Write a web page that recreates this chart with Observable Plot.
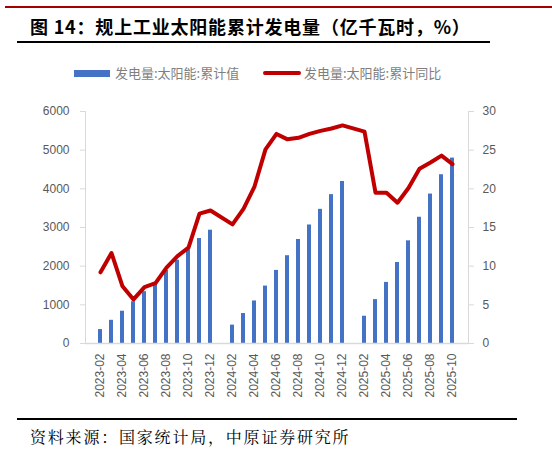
<!DOCTYPE html>
<html><head><meta charset="utf-8">
<script src="https://cdn.jsdelivr.net/npm/d3@7"></script>
<script src="https://cdn.jsdelivr.net/npm/@observablehq/plot@0.6"></script>
<style>
body{margin:0;background:#fff;}
#wrap{position:relative;width:552px;height:451px;overflow:hidden;font-family:"Noto Sans CJK SC",sans-serif;}
.abs{position:absolute;}
</style></head>
<body><div id="wrap">
<div class="abs" style="left:5px;top:6px;width:547px;height:2px;background:#a50000"></div>
<div class="abs" id="title" style="left:30px;top:13px;font-size:18px;font-weight:bold;color:#000;white-space:nowrap;letter-spacing:0.8px">图 14：规上工业太阳能累计发电量（亿千瓦时，%）</div>
<div class="abs" style="left:17px;top:41px;width:473px;height:2px;background:#000"></div>
<div class="abs" style="left:74px;top:70px;width:36px;height:7px;background:#4472C4"></div>
<div class="abs" style="left:115px;top:63px;font-size:13px;color:#7f7f7f;white-space:nowrap">发电量:太阳能:累计值</div>
<div class="abs" style="left:263px;top:71px;width:38px;height:4px;border-radius:2px;background:#C00000"></div>
<div class="abs" style="left:304px;top:63px;font-size:13px;color:#7f7f7f;white-space:nowrap">发电量:太阳能:累计同比</div>
<div class="abs" id="chart" style="left:0;top:95px"></div>
<div class="abs" style="left:17px;top:418px;width:500px;height:2px;background:#000"></div>
<div class="abs" style="left:30px;top:425px;font-size:16px;color:#000;white-space:nowrap;letter-spacing:1.8px;font-family:'Noto Serif CJK SC','Noto Sans CJK SC',serif">资料来源：国家统计局，中原证券研究所</div>
</div>
<script>
const months = ["2023-02","2023-03","2023-04","2023-05","2023-06","2023-07","2023-08","2023-09","2023-10","2023-11","2023-12",
"2024-01","2024-02","2024-03","2024-04","2024-05","2024-06","2024-07","2024-08","2024-09","2024-10","2024-11","2024-12",
"2025-01","2025-02","2025-03","2025-04","2025-05","2025-06","2025-07","2025-08","2025-09","2025-10"];
const cumValue = [360,600,835,1080,1340,1535,1890,2155,2425,2715,2930,
null,475,775,1100,1485,1890,2270,2690,3065,3470,3850,4190,
null,705,1135,1580,2095,2655,3265,3865,4365,4795];
const cumYoY = [9.2,11.7,7.4,5.7,7.3,7.8,9.8,11.3,12.4,16.8,17.2,
null,15.4,17.4,20.3,25.1,27.1,26.4,26.6,27.1,27.5,27.8,28.2,
null,27.4,19.5,19.5,18.2,20.1,22.6,23.4,24.3,23.2];
const leftTicks = [0,1000,2000,3000,4000,5000,6000];
const rightTicks = [0,5,10,15,20,25,30];
const tickLabels = months.filter((m,i)=>i%2===0);

const data = months.map((m,i)=>({month:m, value:cumValue[i], yoy:cumYoY[i]}));
const k = 6000/30;
const axisColor = "#d9d9d9";
const labelColor = "#595959";

const chart = Plot.plot({
  width:552, height:315,
  marginLeft:85, marginRight:84, marginTop:16, marginBottom:67,
  style:{fontFamily:"Liberation Sans, Arial, sans-serif", fontSize:"12px", color:labelColor, background:"transparent"},
  x:{type:"band", domain:months, padding:0.62, align:0.5},
  y:{domain:[0,6000]},
  marks:[
    Plot.frame({anchor:"left", stroke:axisColor}),
    Plot.frame({anchor:"right", stroke:axisColor}),
    Plot.axisY(leftTicks, {anchor:"left", tickSize:5, tickPadding:11, stroke:axisColor, fill:labelColor, tickFormat:d=>String(d), label:null}),
    Plot.axisY(rightTicks.map(v=>v*k), {anchor:"right", tickSize:5, tickPadding:9, stroke:axisColor, fill:labelColor, tickFormat:d=>String(d/k), label:null}),
    Plot.axisX(tickLabels, {anchor:"bottom", tickSize:0, tickPadding:10, tickRotate:-90, fill:labelColor, label:null}),
    Plot.barY(data.filter(d=>d.value!=null), {x:"month", y:"value", fill:"#4472C4"}),
    Plot.ruleY([0], {stroke:axisColor, strokeWidth:1.5}),
    Plot.lineY(data.filter(d=>d.yoy!=null), {x:"month", y:d=>d.yoy*k, stroke:"#C00000", strokeWidth:4, strokeLinejoin:"round"})
  ]
});
document.getElementById("chart").appendChild(chart);
</script>
</body></html>
